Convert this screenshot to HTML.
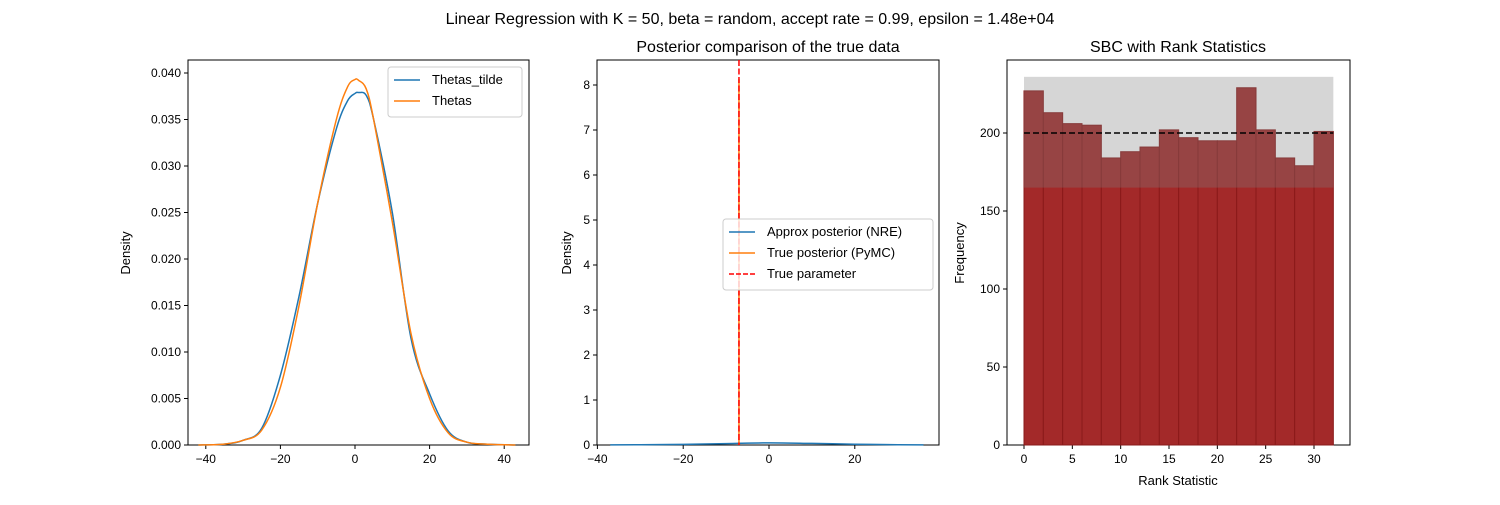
<!DOCTYPE html>
<html><head><meta charset="utf-8"><style>
body{margin:0;background:#fff;}
svg text{font-family:"Liberation Sans","DejaVu Sans",sans-serif;}
</style></head><body>
<svg id="fig" width="1500" height="500" xmlns="http://www.w3.org/2000/svg">
<text x="750" y="24" font-size="16" text-anchor="middle">Linear Regression with K = 50, beta = random, accept rate = 0.99, epsilon = 1.48e+04</text>
</svg>
<script>
// Panel 1: KDE
const kdeX = [-42,-35,-30,-25,-20,-15,-10,-5,-2,0,1,3,5,10,15,20,25,30,35,43];
const kdeTilde = [0,0.0001,0.0005,0.0018,0.0075,0.016,0.026,0.034,0.0370,0.0378,0.0379,0.0376,0.035,0.025,0.0115,0.0055,0.0015,0.0003,0.0001,0];
const kdeTheta = [0,0.0001,0.0005,0.0016,0.0062,0.015,0.026,0.035,0.0385,0.0393,0.0392,0.0383,0.035,0.024,0.012,0.005,0.0013,0.0003,0.0001,0];
const xTicks1 = [-40,-20,0,20,40];
const yTicks1 = [0,0.005,0.01,0.015,0.02,0.025,0.03,0.035,0.04];
// Panel 2: posterior
const postX = [-37,-30,-20,-10,0,10,20,30,36];
const postNRE = [0.002,0.006,0.015,0.03,0.048,0.035,0.018,0.006,0.002];
const trueParam = -7;
const pymcPeak = 8.13;
const xTicks2 = [-40,-20,0,20];
const yTicks2 = [0,1,2,3,4,5,6,7,8];
// Panel 3: SBC histogram
const rankBins = [0,2,4,6,8,10,12,14,16,18,20,22,24,26,28,30];
const rankCounts = [227,213,206,205,184,188,191,202,197,195,195,229,202,184,179,201];
const bandLow = 165, bandHigh = 236, expected = 200;
const xTicks3 = [0,5,10,15,20,25,30];
const yTicks3 = [0,50,100,150,200];

const svg = document.getElementById('fig');
const NS = 'http://www.w3.org/2000/svg';
function mk(tag, attrs, parent){const e=document.createElementNS(NS,tag);for(const k in attrs)e.setAttribute(k,attrs[k]);(parent||svg).appendChild(e);return e;}
function txt(x,y,s,size,anchor,parent){const t=mk('text',{x:x,y:y,'font-size':size,'text-anchor':anchor},parent);t.textContent=s;return t;}

function axes(x0,x1,y0,y1,sx,sy,xt,yt,fmtY,name){
  const g=mk('g',{});
  
  
  mk('rect',{x:x0,y:y0,width:x1-x0,height:y1-y0,fill:'none',stroke:'#000','stroke-width':1},g);
  xt.forEach(v=>{const px=sx(v);mk('line',{x1:px,x2:px,y1:y1,y2:y1+4,stroke:'#000'},g);
    const t=txt(px,y1+18,v<0?'\u2212'+(-v):String(v),12,'middle',g);
    
    });
  yt.forEach(v=>{const py=sy(v);mk('line',{x1:x0-4,x2:x0,y1:py,y2:py,stroke:'#000'},g);
    const t=txt(x0-7,py+4,fmtY(v),12,'end',g);
    
    });
  return g;
}
function pathFrom(xs,ys,sx,sy){return xs.map((x,i)=>(i?'L':'M')+sx(x).toFixed(1)+','+sy(ys[i]).toFixed(1)).join('');}
function smoothPath(xs,ys,sx,sy){
  const pts=xs.map((x,i)=>[sx(x),sy(ys[i])]);let d='M'+pts[0][0]+','+pts[0][1];
  for(let i=0;i<pts.length-1;i++){const p0=pts[i-1]||pts[i],p1=pts[i],p2=pts[i+1],p3=pts[i+2]||p2;
    d+=`C${p1[0]+(p2[0]-p0[0])/6},${p1[1]+(p2[1]-p0[1])/6} ${p2[0]-(p3[0]-p1[0])/6},${p2[1]-(p3[1]-p1[1])/6} ${p2[0]},${p2[1]}`;}
  return d;}
function legend(x,y,w,entries,name){
  const g=mk('g',{});
  
  
  mk('rect',{x:x,y:y,width:w,height:entries.length*21+8,rx:3,fill:'#fff','fill-opacity':0.8,stroke:'#ccc'},g);
  entries.forEach((e,i)=>{const yy=y+13+i*21;
    mk('line',{x1:x+6,x2:x+32,y1:yy,y2:yy,stroke:e[1],'stroke-width':1.5,'stroke-dasharray':e[2]||''},g);
    const t=txt(x+44,yy+4,e[0],13,'start',g);
    
    });
}

// Panel 1
{const x0=188,x1=529,y0=60,y1=445;
 const sx=v=>355+v*3.73, sy=v=>445-v*9300;
 axes(x0,x1,y0,y1,sx,sy,xTicks1,yTicks1,v=>v.toFixed(3),'kde-axes');
 const b=mk('path',{d:smoothPath(kdeX,kdeTilde,sx,sy),fill:'none',stroke:'#1f77b4','stroke-width':1.5});
 
 
 const o=mk('path',{d:smoothPath(kdeX,kdeTheta,sx,sy),fill:'none',stroke:'#ff7f0e','stroke-width':1.5});
 
 
 const yl=txt(0,0,'Density',13,'middle');yl.setAttribute('transform','translate(130,253) rotate(-90)');
 
 
 legend(388,67,134,[['Thetas_tilde','#1f77b4'],['Thetas','#ff7f0e']],'kde-legend');
}
// Panel 2
{const x0=597,x1=939,y0=60,y1=445;
 const sx=v=>769+v*4.29, sy=v=>445-v*45;
 axes(x0,x1,y0,y1,sx,sy,xTicks2,yTicks2,v=>String(v),'posterior-axes');
 const b=mk('path',{d:smoothPath(postX,postNRE,sx,sy),fill:'none',stroke:'#1f77b4','stroke-width':1.5});
 
 
 const o=mk('line',{x1:sx(trueParam),x2:sx(trueParam),y1:sy(0),y2:sy(pymcPeak),stroke:'#ff7f0e','stroke-width':1.5});
 
 
 const r=mk('line',{x1:sx(trueParam),x2:sx(trueParam),y1:y0,y2:y1,stroke:'#ff0000','stroke-width':1.5,'stroke-dasharray':'6,2.5'});
 
 
 const t=txt(768,52,'Posterior comparison of the true data',16,'middle');
 
 
 const yl=txt(0,0,'Density',13,'middle');yl.setAttribute('transform','translate(571,253) rotate(-90)');
 
 
 legend(723,219,210,[['Approx posterior (NRE)','#1f77b4'],['True posterior (PyMC)','#ff7f0e'],['True parameter','#ff0000','5,2']],'posterior-legend');
}
// Panel 3
{const x0=1007,x1=1350,y0=60,y1=445;
 const sx=v=>1024+v*9.667, sy=v=>445-v*1.56;
 axes(x0,x1,y0,y1,sx,sy,xTicks3,yTicks3,v=>String(v),'sbc-axes');
 rankBins.forEach((b,i)=>{const r=mk('rect',{x:sx(b),y:sy(rankCounts[i]),width:sx(b+2)-sx(b),height:sy(0)-sy(rankCounts[i]),fill:'#a32929',stroke:'#8a1a1a','stroke-width':1});
   
   });
 const band=mk('rect',{x:sx(0),y:sy(bandHigh),width:sx(32)-sx(0),height:sy(bandLow)-sy(bandHigh),fill:'#808080','fill-opacity':0.32});
 
 
 const l=mk('line',{x1:sx(0),x2:sx(32),y1:sy(expected),y2:sy(expected),stroke:'#000','stroke-width':1.5,'stroke-dasharray':'6,3'});
 
 
 const t=txt(1178,52,'SBC with Rank Statistics',16,'middle');
 
 
 const xl=txt(1178,485,'Rank Statistic',13,'middle');
 
 
 const yl=txt(0,0,'Frequency',13,'middle');yl.setAttribute('transform','translate(964,253) rotate(-90)');
 
 
}
</script>
</body></html>
